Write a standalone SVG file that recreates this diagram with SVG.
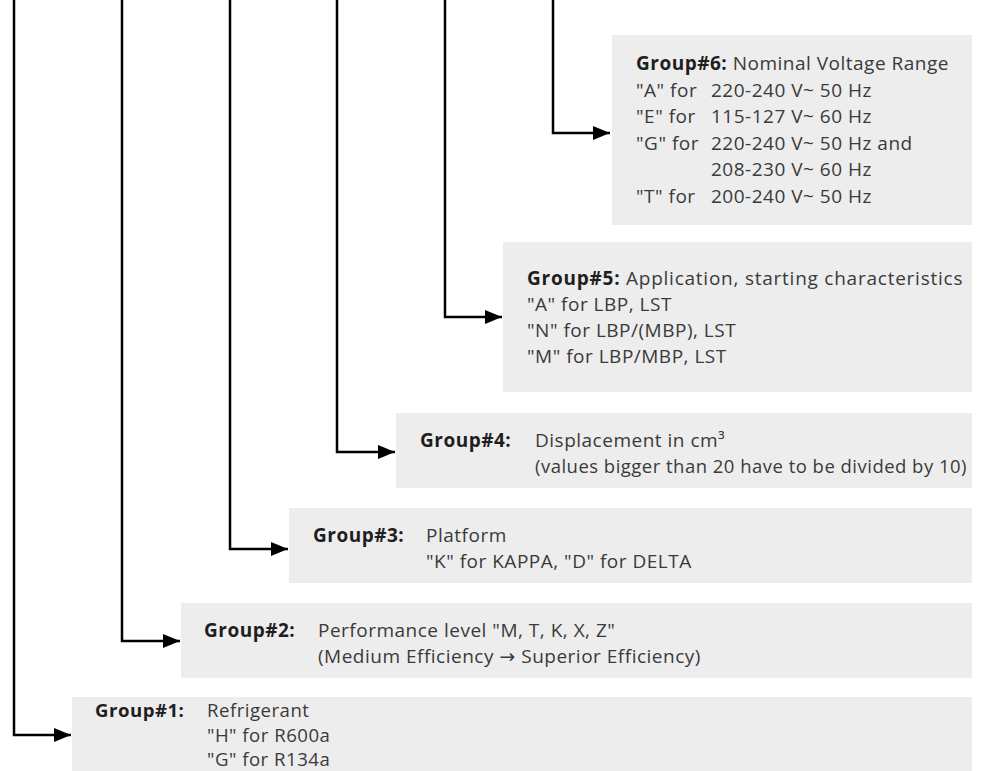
<svg xmlns="http://www.w3.org/2000/svg" width="986" height="771" viewBox="0 0 986 771">
<style>
.box{fill:#ededed;}
.t{font-family:"Open Sans","Roboto","DejaVu Sans",sans-serif;font-size:19px;letter-spacing:0.5px;fill:#3a3a3a;}
.b{font-weight:bold;fill:#1e1e1e;}
.s{font-size:18.6px;}
.wire{fill:none;stroke:#000;stroke-width:2.5;}
</style>
<defs>
<marker id="ah" markerUnits="userSpaceOnUse" markerWidth="18" markerHeight="14" refX="17" refY="7" orient="auto">
<path d="M0,0 L17,7 L0,14 Z" fill="#000"/>
</marker>
</defs>
<rect width="986" height="771" fill="#fff"/>
<g id="connectors">
<path class="wire" d="M553,0 V133 H610" marker-end="url(#ah)"/>
<path class="wire" d="M445,0 V317 H502" marker-end="url(#ah)"/>
<path class="wire" d="M337,0 V452 H395" marker-end="url(#ah)"/>
<path class="wire" d="M230,0 V549 H288" marker-end="url(#ah)"/>
<path class="wire" d="M122,0 V641 H180" marker-end="url(#ah)"/>
<path class="wire" d="M14,0 V735 H71" marker-end="url(#ah)"/>
</g>
<g id="group6">
<rect class="box" x="612" y="35" width="360" height="190"/>
<text class="t" x="636" y="70"><tspan class="b">Group#6:</tspan> Nominal Voltage Range</text>
<text class="t" x="636" y="96.5">"A" for</text><text class="t" x="711" y="96.5">220-240 V~ 50 Hz</text>
<text class="t" x="636" y="123">"E" for</text><text class="t" x="711" y="123">115-127 V~ 60 Hz</text>
<text class="t" x="636" y="149.5">"G" for</text><text class="t" x="711" y="149.5">220-240 V~ 50 Hz and</text>
<text class="t" x="711" y="176">208-230 V~ 60 Hz</text>
<text class="t" x="636" y="202.5">"T" for</text><text class="t" x="711" y="202.5">200-240 V~ 50 Hz</text>
</g>
<g id="group5">
<rect class="box" x="503" y="242" width="469" height="150"/>
<text class="t" x="527" y="285" textLength="436" lengthAdjust="spacing"><tspan class="b">Group#5:</tspan> Application, starting characteristics</text>
<text class="t" x="527" y="311">"A" for LBP, LST</text>
<text class="t" x="527" y="337">"N" for LBP/(MBP), LST</text>
<text class="t" x="527" y="363">"M" for LBP/MBP, LST</text>
</g>
<g id="group4">
<rect class="box" x="396" y="413" width="576" height="75"/>
<text class="t b" x="420" y="447">Group#4:</text>
<text class="t" x="535" y="447">Displacement in cm³</text>
<text class="t" x="535" y="473" textLength="432" lengthAdjust="spacingAndGlyphs">(values bigger than 20 have to be divided by 10)</text>
</g>
<g id="group3">
<rect class="box" x="289" y="508" width="683" height="75"/>
<text class="t b" x="313" y="542">Group#3:</text>
<text class="t" x="426" y="542">Platform</text>
<text class="t" x="426" y="568">"K" for KAPPA, "D" for DELTA</text>
</g>
<g id="group2">
<rect class="box" x="181" y="603" width="791" height="75"/>
<text class="t b" x="204" y="637">Group#2:</text>
<text class="t" x="318" y="637">Performance level "M, T, K, X, Z"</text>
<text class="t" x="318" y="663">(Medium Efficiency → Superior Efficiency)</text>
</g>
<g id="group1">
<rect class="box" x="72" y="697" width="900" height="74"/>
<text class="t b s" x="95" y="716.5">Group#1:</text>
<text class="t s" x="207" y="716.5">Refrigerant</text>
<text class="t s" x="207" y="741.5">"H" for R600a</text>
<text class="t s" x="207" y="766">"G" for R134a</text>
</g>
</svg>
